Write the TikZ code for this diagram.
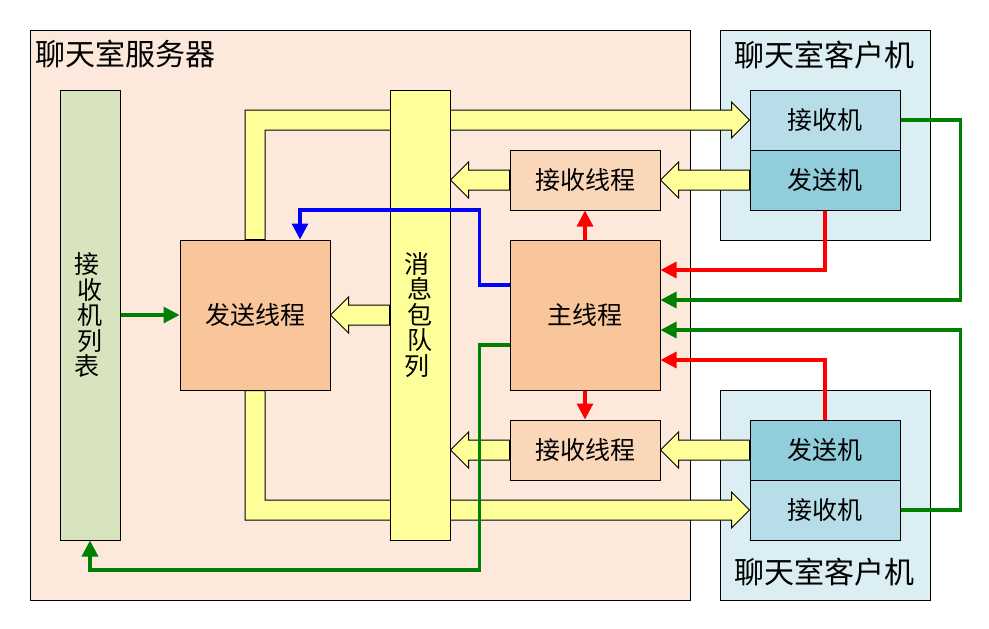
\documentclass[tikz,border=0pt]{standalone}
\usepackage{fontspec}
\setmainfont{Noto Sans CJK SC}
\usetikzlibrary{arrows.meta,calc}
\definecolor{serverbg}{RGB}{252,233,219}
\definecolor{clientbg}{RGB}{218,238,243}
\definecolor{listc}{RGB}{215,228,189}
\definecolor{queuec}{RGB}{255,255,153}
\definecolor{threadc}{RGB}{249,197,154}
\definecolor{recvthc}{RGB}{251,215,186}
\definecolor{recvc}{RGB}{183,221,232}
\definecolor{sendc}{RGB}{146,205,220}
\definecolor{lgreen}{RGB}{0,128,0}
\definecolor{lred}{RGB}{255,0,0}
\definecolor{lblue}{RGB}{0,0,255}
\pgfdeclarelayer{back}
\pgfdeclarelayer{mid}
\pgfsetlayers{back,mid,main}
\newcommand\leftblock[2]{% #1 = base point, #2 = tip point
  \draw[fat] ([yshift=10pt]#1) -- ([yshift=10pt,xshift=18pt]#2)
    -- ([yshift=18pt,xshift=18pt]#2) -- (#2)
    -- ([yshift=-18pt,xshift=18pt]#2) -- ([yshift=-10pt,xshift=18pt]#2)
    -- ([yshift=-10pt]#1) -- cycle;}
\newcommand\vch[1]{#1\hspace*{7pt}}
\begin{document}
\begin{tikzpicture}[x=1pt,y=-1pt,
  box/.style={draw=black,line width=1pt,inner sep=0pt,font=\fontsize{25}{25}\selectfont},
  area/.style={draw=black,line width=1pt,inner sep=0pt,anchor=north west},
  conn/.style={line width=3.2pt,-{Triangle[length=16pt,width=16pt]}},
  fat/.style={draw=black,line width=1pt,fill=queuec},
  title/.style={font=\fontsize{30}{30}\selectfont,inner sep=0pt}
]
\useasboundingbox (0,0) rectangle (989,629);
\begin{pgfonlayer}{back}
\node[area,fill=serverbg,minimum width=660pt,minimum height=570pt] (server) at (30,30) {};
\node[area,fill=clientbg,minimum width=210pt,minimum height=210pt] (clientA) at (720,30) {};
\node[area,fill=clientbg,minimum width=210pt,minimum height=210pt] (clientB) at (720,390) {};
\end{pgfonlayer}
\node[title,anchor=west] (srvlabel) at (35,54) {聊天室服务器};
\node[title] (clalabel) at (824,55) {聊天室客户机};
\node[title] (clblabel) at (824,572) {聊天室客户机};
% boxes
\node[box,fill=listc,minimum width=60pt,minimum height=450pt,align=center,font=\fontsize{25}{25.5}\selectfont] (list) at (90,315) {\vch{接}\\\vch{收}\\\vch{机}\\\vch{列}\\\vch{表}};
\node[box,fill=queuec,minimum width=60pt,minimum height=450pt,align=center,font=\fontsize{25}{25.5}\selectfont] (queue) at (420,315) {\vch{消}\\\vch{息}\\\vch{包}\\\vch{队}\\\vch{列}};
\node[box,fill=threadc,minimum width=150pt,minimum height=150pt] (sendth) at (255,315) {发送线程};
\node[box,fill=threadc,minimum width=150pt,minimum height=150pt] (mainth) at (585,315) {主线程};
\node[box,fill=recvthc,minimum width=150pt,minimum height=60pt] (recvthA) at (585,180) {接收线程};
\node[box,fill=recvthc,minimum width=150pt,minimum height=60pt] (recvthB) at (585,450) {接收线程};
\node[box,fill=recvc,minimum width=150pt,minimum height=60pt] (recvA) at (825,120) {接收机};
\node[box,fill=sendc,minimum width=150pt,minimum height=60pt] (sendA) at (825,180) {发送机};
\node[box,fill=sendc,minimum width=150pt,minimum height=60pt] (sendB) at (825,450) {发送机};
\node[box,fill=recvc,minimum width=150pt,minimum height=60pt] (recvB) at (825,510) {接收机};
\coordinate (qA) at (queue.east |- recvthA.west);
\coordinate (qB) at (queue.east |- recvthB.west);
% block arrows
\begin{pgfonlayer}{mid}
\draw[fat] ([xshift=-10pt]sendth.north)
  |- ([yshift=10pt,xshift=-18pt]recvA.west)
  -- ([yshift=18pt,xshift=-18pt]recvA.west)
  -- (recvA.west)
  -- ([yshift=-18pt,xshift=-18pt]recvA.west)
  -- ([yshift=-10pt,xshift=-18pt]recvA.west)
  -| ([xshift=10pt]sendth.north) -- cycle;
\draw[fat] ([xshift=-10pt]sendth.south)
  |- ([yshift=-10pt,xshift=-18pt]recvB.west)
  -- ([yshift=-18pt,xshift=-18pt]recvB.west)
  -- (recvB.west)
  -- ([yshift=18pt,xshift=-18pt]recvB.west)
  -- ([yshift=10pt,xshift=-18pt]recvB.west)
  -| ([xshift=10pt]sendth.south) -- cycle;
\leftblock{sendA.west}{recvthA.east}
\leftblock{recvthA.west}{qA}
\leftblock{sendB.west}{recvthB.east}
\leftblock{recvthB.west}{qB}
\leftblock{queue.west}{sendth.east}
\end{pgfonlayer}
% connectors
\draw[conn,lgreen] (list.east) -- (sendth.west);
\draw[conn,lred] (mainth.north) -- (recvthA.south);
\draw[conn,lred] (mainth.south) -- (recvthB.north);
\draw[conn,lred] (sendA.south) |- ([yshift=45pt]mainth.east);
\draw[conn,lgreen] (recvA.east) -- ++(60,0) |- ([yshift=15pt]mainth.east);
\draw[conn,lgreen] (recvB.east) -- ++(60,0) |- ([yshift=-15pt]mainth.east);
\draw[conn,lred] (sendB.north) |- ([yshift=-45pt]mainth.east);
\draw[conn,lblue] ([yshift=30pt]mainth.west) -- ++(-30,0) -- ++(0,-75) -| ([xshift=45pt]sendth.north);
\draw[conn,lgreen] ([yshift=-30pt]mainth.west) -- ++(-30,0) -- ++(0,225) -| (list.south);
\end{tikzpicture}
\end{document}
